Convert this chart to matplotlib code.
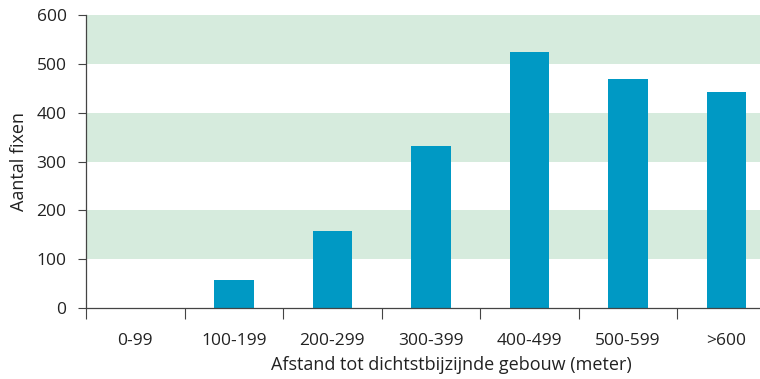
import numpy as np
import matplotlib.pyplot as plt
from matplotlib.ticker import FixedLocator

categories = ["0-99", "100-199", "200-299", "300-399", "400-499", "500-599", ">600"]
fixes = [0, 58, 157, 332, 524, 469, 443]
y_ticks = [0, 100, 200, 300, 400, 500, 600]
bands = [(100, 200), (300, 400), (500, 600)]

plt.rcParams['font.family'] = ['Open Sans', 'DejaVu Sans']

fig = plt.figure(figsize=(7.60, 3.79), dpi=100)
ax = fig.add_axes([0.1132, 0.1873, 0.8868, 0.7731])

# light green background bands
for lo, hi in bands:
    ax.axhspan(lo, hi, color="#d6ebdd", lw=0, zorder=0)

x = np.arange(len(categories))
ax.bar(x, fixes, width=0.40, color="#0099c4", zorder=2)

ax.set_xlim(-0.5, 6.34)
ax.set_ylim(0, 600)
ax.set_yticks(y_ticks)
ax.set_yticklabels([str(v) for v in y_ticks], fontsize=12.5)

ax.set_xticks(x)
ax.set_xticklabels(categories, fontsize=12.5)
ax.xaxis.set_minor_locator(FixedLocator(np.arange(-0.5, 7, 1)))
ax.tick_params(axis="x", which="major", length=0, pad=18, colors="#222222")
ax.tick_params(axis="x", which="minor", length=8, width=0.8, color="#444444")
ax.tick_params(axis="y", length=6, width=0.8, pad=8, color="#444444", labelcolor="#222222")

for side in ["top", "right"]:
    ax.spines[side].set_visible(False)
for side in ["left", "bottom"]:
    ax.spines[side].set_color("#444444")
    ax.spines[side].set_linewidth(0.9)

ax.set_xlabel("Afstand tot dichtstbijzijnde gebouw (meter)", fontsize=13, color="#222222")
ax.xaxis.set_label_coords(0.5415, -0.165)
ax.set_ylabel("Aantal fixen", fontsize=13, labelpad=6, color="#222222")

fig.savefig("out.png", dpi=100)
